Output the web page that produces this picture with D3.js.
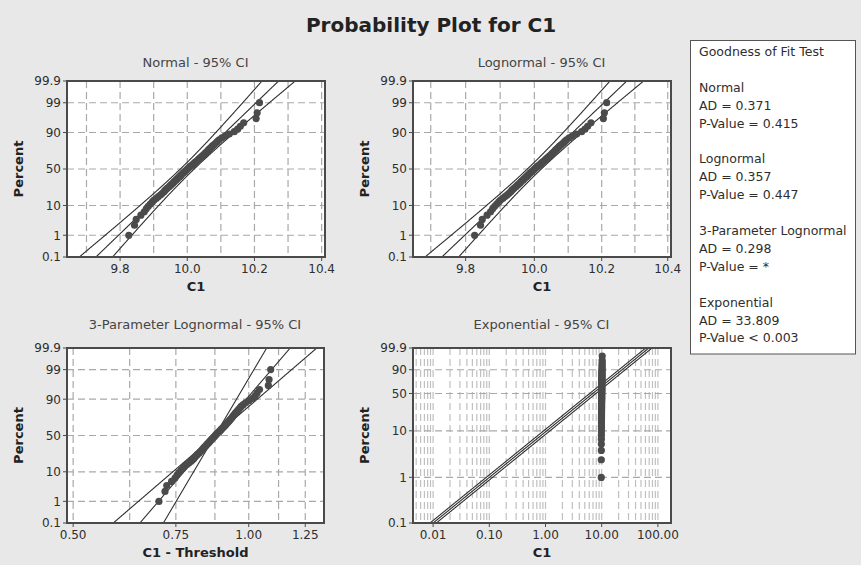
<!DOCTYPE html>
<html>
<head>
<meta charset="utf-8">
<script src="https://cdn.jsdelivr.net/npm/d3@7"></script>
<style>
  html, body { margin: 0; padding: 0; background: #e8e8e8; }
  svg { display: block; font-family: "DejaVu Sans", Verdana, sans-serif; }
</style>
</head>
<body>
<svg id="chart" width="861" height="565"></svg>
<script>
// ---- Sample C1 (sorted), n = 70 ----
const c1Values = [
  9.826, 9.843, 9.848, 9.862, 9.872, 9.878, 9.884, 9.890, 9.896, 9.901,
  9.908, 9.914, 9.920, 9.925, 9.930, 9.933, 9.937, 9.941, 9.946, 9.949,
  9.953, 9.957, 9.960, 9.963, 9.967, 9.970, 9.973, 9.977, 9.980, 9.983,
  9.986, 9.989, 9.993, 9.996, 9.999, 10.002, 10.005, 10.009, 10.013, 10.017,
  10.020, 10.023, 10.027, 10.031, 10.034, 10.038, 10.041, 10.045, 10.049, 10.052,
  10.056, 10.060, 10.063, 10.067, 10.071, 10.075, 10.080, 10.085, 10.090, 10.095,
  10.103, 10.112, 10.125, 10.140, 10.150, 10.158, 10.168, 10.205, 10.208, 10.215
];

// ---- Axis ticks and grid values ----
const percentTicks = [0.1, 1, 10, 50, 90, 99, 99.9];
const percentGrid = [1, 10, 50, 90, 99];
const expPercentTicks = [0.1, 1, 10, 50, 90, 99.9];
const expPercentGrid = [1, 10, 50, 90];
const c1Ticks = [9.8, 10.0, 10.2, 10.4];
const c1Grid = [9.7, 9.8, 9.9, 10.0, 10.1, 10.2, 10.3, 10.4];
const thresholdTicks = [0.5, 0.75, 1.0, 1.25];
const thresholdGrid = [0.5, 0.625, 0.75, 0.875, 1.0, 1.125, 1.25];
const expTicks = [0.01, 0.1, 1, 10, 100];
const expGridDecades = [0.001, 0.01, 0.1, 1, 10, 100];
const expGridMultiples = [1, 2, 3, 4, 5, 6, 7, 8, 9];

// ---- Fitted distributions ----
const normalFit = { mu: 10.0, sigma: 0.088 };
const lognormalFit = { loc: Math.log(10.0), scale: 0.0088 };
const threeParamFit = { threshold: 9.1245, loc: -0.133, scale: 0.096, bandScales: [0.066, 0.130] };
const expFit = { theta: 10.0, bandFactors: [0.88, 1.14] };

// ---- Goodness of fit text ----
const gofLines = [
  "Goodness of Fit Test", "",
  "Normal", "AD = 0.371", "P-Value = 0.415", "",
  "Lognormal", "AD = 0.357", "P-Value = 0.447", "",
  "3-Parameter Lognormal", "AD = 0.298", "P-Value = *", "",
  "Exponential", "AD = 33.809", "P-Value < 0.003"
];

const title = "Probability Plot for C1";

// Inverse standard normal CDF (Acklam's rational approximation)
function qnorm(p) {
  const a = [-3.969683028665376e+01, 2.209460984245205e+02, -2.759285104469687e+02, 1.383577518672690e+02, -3.066479806614716e+01, 2.506628277459239e+00];
  const b = [-5.447609879822406e+01, 1.615858368580409e+02, -1.556989798598866e+02, 6.680131188771972e+01, -1.328068155288572e+01];
  const c = [-7.784894002430293e-03, -3.223964580411365e-01, -2.400758277161838e+00, -2.549671010229528e+00, 4.374664141464968e+00, 2.938163982698783e+00];
  const d = [7.784695709041462e-03, 3.224671290700398e-01, 2.445134137142996e+00, 3.754408661907416e+00];
  const pl = 0.02425, ph = 1 - pl;
  let q, r;
  if (p < pl) {
    q = Math.sqrt(-2 * Math.log(p));
    return (((((c[0]*q+c[1])*q+c[2])*q+c[3])*q+c[4])*q+c[5]) / ((((d[0]*q+d[1])*q+d[2])*q+d[3])*q+1);
  }
  if (p <= ph) {
    q = p - 0.5; r = q * q;
    return (((((a[0]*r+a[1])*r+a[2])*r+a[3])*r+a[4])*r+a[5])*q / (((((b[0]*r+b[1])*r+b[2])*r+b[3])*r+b[4])*r+1);
  }
  q = Math.sqrt(-2 * Math.log(1 - p));
  return -(((((c[0]*q+c[1])*q+c[2])*q+c[3])*q+c[4])*q+c[5]) / ((((d[0]*q+d[1])*q+d[2])*q+d[3])*q+1);
}
// Smallest extreme value transform used by the exponential scale
const sev = p => Math.log(-Math.log(1 - p));

const n = c1Values.length;
// Median-rank plotting positions
const ranks = c1Values.map((v, i) => ({ v, p: (i + 1 - 0.3) / (n + 0.4) }));

const svg = d3.select("#chart");
svg.append("rect").attr("width", 861).attr("height", 565).attr("fill", "#e8e8e8");

svg.append("text")
  .attr("x", 431).attr("y", 32)
  .attr("text-anchor", "middle")
  .attr("font-size", 20).attr("font-weight", "bold").attr("fill", "#222")
  .text(title);

const zCI = 1.96;
const normalCI = (z, s) => zCI * s / Math.sqrt(n) * Math.sqrt(1 + z * z / 2);

const panels = [
  {
    id: "normal", left: 67, top: 81, width: 258, height: 176, titleY: 67,
    title: "Normal - 95% CI", xLabel: "C1",
    x: d3.scaleLinear().domain([9.642, 10.41]),
    xTicks: c1Ticks, xGrid: c1Grid, xFmt: d3.format(".1f"), vGridColor: "#a9a9a9",
    yT: p => qnorm(p), yTicks: percentTicks, yGrid: percentGrid,
    pts: ranks.map(r => ({ x: r.v, p: r.p })),
    lines: [
      z => normalFit.mu + normalFit.sigma * z,
      z => normalFit.mu + normalFit.sigma * z - normalCI(z, normalFit.sigma),
      z => normalFit.mu + normalFit.sigma * z + normalCI(z, normalFit.sigma)
    ]
  },
  {
    id: "lognormal", left: 413, top: 81, width: 258, height: 176, titleY: 67,
    title: "Lognormal - 95% CI", xLabel: "C1",
    x: d3.scaleLog().domain([9.6495, 10.41]),
    xTicks: c1Ticks, xGrid: c1Grid, xFmt: d3.format(".1f"), vGridColor: "#a9a9a9",
    yT: p => qnorm(p), yTicks: percentTicks, yGrid: percentGrid,
    pts: ranks.map(r => ({ x: r.v, p: r.p })),
    lines: [
      z => Math.exp(lognormalFit.loc + lognormalFit.scale * z),
      z => Math.exp(lognormalFit.loc + lognormalFit.scale * z - normalCI(z, lognormalFit.scale)),
      z => Math.exp(lognormalFit.loc + lognormalFit.scale * z + normalCI(z, lognormalFit.scale))
    ]
  },
  {
    id: "threeparam", left: 67, top: 348, width: 257, height: 175, titleY: 329,
    title: "3-Parameter Lognormal - 95% CI", xLabel: "C1 - Threshold",
    x: d3.scaleLog().domain([0.488, 1.346]),
    xTicks: thresholdTicks, xGrid: thresholdGrid, xFmt: d3.format(".2f"), vGridColor: "#a9a9a9",
    yT: p => qnorm(p), yTicks: percentTicks, yGrid: percentGrid,
    pts: ranks.map(r => ({ x: r.v - threeParamFit.threshold, p: r.p })),
    lines: [
      z => Math.exp(threeParamFit.loc + threeParamFit.scale * z),
      z => Math.exp(threeParamFit.loc + threeParamFit.bandScales[0] * z),
      z => Math.exp(threeParamFit.loc + threeParamFit.bandScales[1] * z)
    ]
  },
  {
    id: "exponential", left: 413, top: 348, width: 258, height: 175, titleY: 329,
    title: "Exponential - 95% CI", xLabel: "C1",
    x: d3.scaleLog().domain([0.00439, 171]),
    xTicks: expTicks,
    xGrid: expGridDecades.flatMap(dec => expGridMultiples.map(m => m * dec)),
    xFmt: d3.format(".2f"), vGridColor: "#c0c0c0",
    yT: p => sev(p), yTicks: expPercentTicks, yGrid: expPercentGrid,
    pts: ranks.map(r => ({ x: r.v, p: r.p })),
    lines: [
      w => expFit.theta * Math.exp(w),
      w => expFit.theta * expFit.bandFactors[0] * Math.exp(w),
      w => expFit.theta * expFit.bandFactors[1] * Math.exp(w)
    ]
  }
];

const gridColor = "#a9a9a9";
const frameColor = "#4a4a4a";
const textColor = "#2e2e2e";

panels.forEach(P => {
  const x = P.x.range([P.left, P.left + P.width]);
  const tMin = P.yT(0.001), tMax = P.yT(0.999);
  const y = d3.scaleLinear().domain([tMin, tMax]).range([P.top + P.height, P.top]);
  const g = svg.append("g");
  const xd = x.domain();

  g.append("clipPath").attr("id", "clip-" + P.id)
    .append("rect").attr("x", P.left).attr("y", P.top).attr("width", P.width).attr("height", P.height);

  g.append("rect")
    .attr("x", P.left).attr("y", P.top).attr("width", P.width).attr("height", P.height)
    .attr("fill", "#fff");

  const grid = g.append("g").attr("clip-path", `url(#clip-${P.id})`)
    .attr("stroke-width", 1.2).attr("stroke-dasharray", "7,4");
  grid.selectAll("line.v")
    .data(P.xGrid.filter(v => v > xd[0] && v < xd[1]))
    .join("line").attr("class", "v")
    .attr("stroke", P.vGridColor)
    .attr("x1", d => x(d)).attr("x2", d => x(d))
    .attr("y1", P.top).attr("y2", P.top + P.height);
  grid.selectAll("line.h")
    .data(P.yGrid)
    .join("line").attr("class", "h")
    .attr("stroke", gridColor)
    .attr("x1", P.left).attr("x2", P.left + P.width)
    .attr("y1", d => y(P.yT(d / 100))).attr("y2", d => y(P.yT(d / 100)));

  // Fitted line and confidence bounds
  const span = tMax - tMin;
  const ts = d3.range(tMin - 0.3 * span, tMax + 0.3 * span, span / 300);
  const lineGen = f => d3.line()
    .defined(t => f(t) > 0 && isFinite(f(t)))
    .x(t => x(f(t))).y(t => y(t))(ts);
  g.append("g").attr("clip-path", `url(#clip-${P.id})`)
    .selectAll("path").data(P.lines).join("path")
    .attr("d", f => lineGen(f))
    .attr("fill", "none").attr("stroke", "#2e2e2e").attr("stroke-width", 1.1);

  // Data points
  g.append("g").selectAll("circle").data(P.pts).join("circle")
    .attr("cx", d => x(d.x)).attr("cy", d => y(P.yT(d.p)))
    .attr("r", 3.6).attr("fill", "#4b4b4b");

  // Frame
  g.append("rect")
    .attr("x", P.left).attr("y", P.top).attr("width", P.width).attr("height", P.height)
    .attr("fill", "none").attr("stroke", frameColor).attr("stroke-width", 2);

  // Y ticks and labels
  P.yTicks.forEach(v => {
    const yy = y(P.yT(v / 100));
    g.append("line").attr("x1", P.left - 4).attr("x2", P.left).attr("y1", yy).attr("y2", yy)
      .attr("stroke", frameColor).attr("stroke-width", 1);
    g.append("text").attr("x", P.left - 6).attr("y", yy).attr("dy", "0.36em")
      .attr("text-anchor", "end").attr("font-size", 12).attr("fill", textColor)
      .text(String(v));
  });

  // X ticks and labels
  P.xTicks.forEach(v => {
    const xx = x(v);
    g.append("line").attr("x1", xx).attr("x2", xx)
      .attr("y1", P.top + P.height).attr("y2", P.top + P.height + 4)
      .attr("stroke", frameColor).attr("stroke-width", 1);
    g.append("text").attr("x", xx).attr("y", P.top + P.height + 16)
      .attr("text-anchor", "middle").attr("font-size", 12).attr("fill", textColor)
      .text(P.xFmt(v));
  });

  // Panel title and axis titles
  g.append("text").attr("x", P.left + P.width / 2 - 0.5).attr("y", P.titleY)
    .attr("text-anchor", "middle").attr("font-size", 13).attr("fill", "#444")
    .text(P.title);
  g.append("text").attr("x", P.left + P.width / 2).attr("y", P.top + P.height + 34)
    .attr("text-anchor", "middle").attr("font-size", 13).attr("font-weight", "bold").attr("fill", "#222")
    .text(P.xLabel);
  g.append("text")
    .attr("transform", `translate(${P.left - 44},${P.top + P.height / 2}) rotate(-90)`)
    .attr("text-anchor", "middle").attr("font-size", 13).attr("font-weight", "bold").attr("fill", "#222")
    .text("Percent");
});

// Goodness of fit box
const gof = svg.append("g");
gof.append("rect")
  .attr("x", 690.5).attr("y", 40.5).attr("width", 165).attr("height", 313.5)
  .attr("fill", "#fff").attr("stroke", "#555").attr("stroke-width", 1);
gof.selectAll("text").data(gofLines).join("text")
  .attr("x", 699).attr("y", (d, i) => 56 + i * 17.9)
  .attr("font-size", 12.5).attr("fill", textColor)
  .text(d => d);
</script>
</body>
</html>
